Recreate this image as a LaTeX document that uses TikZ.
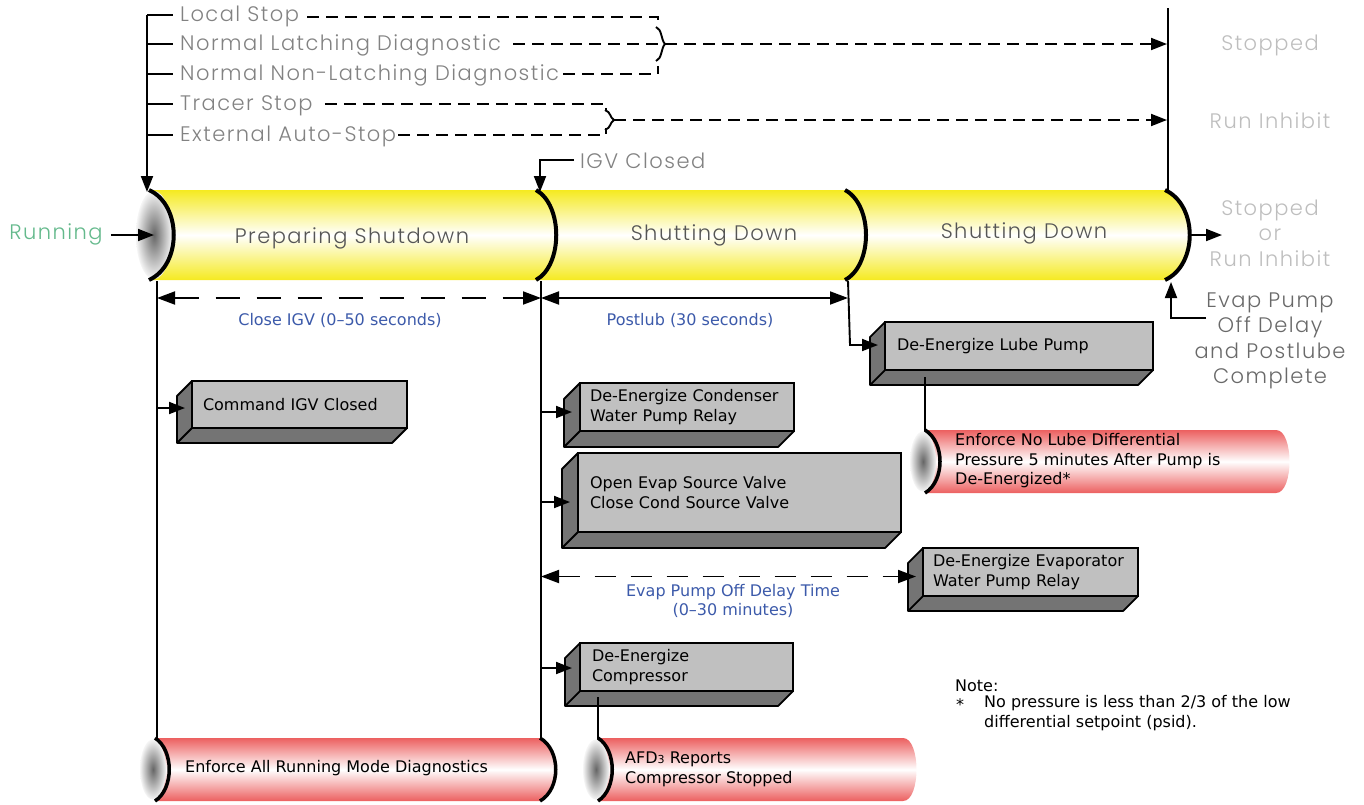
\documentclass[tikz,border=0pt]{standalone}
\usepackage{fontspec}
\setmainfont{DejaVu Sans}
\IfFontExistsTF{Poppins Light}{\newfontfamily\pop{Poppins Light}[LetterSpace=7]}{\newfontfamily\pop{Poppins}[LetterSpace=7]}
\usetikzlibrary{arrows.meta,calc}
\definecolor{tubeY}{RGB}{245,234,32}
\definecolor{tubeR}{RGB}{236,96,96}
\definecolor{boxF}{RGB}{192,192,192}
\definecolor{boxS}{RGB}{116,116,116}
\definecolor{lblue}{RGB}{60,90,170}
\definecolor{lgreen}{RGB}{100,185,140}
\definecolor{lgray}{RGB}{190,190,190}
\definecolor{mgray}{RGB}{130,130,130}
\definecolor{ngray}{RGB}{105,105,105}
\definecolor{dgray}{RGB}{85,85,85}
\newcommand\boxsides[2]{%
  \filldraw[fill=boxS, draw=black, line width=1.8pt, line join=round]
    (#1.north west) -- ++(-#2,#2) -- ($(#1.south west)+(-#2,#2)$)
    -- ($(#1.south east)+(-#2,#2)$) -- (#1.south east) -- (#1.south west) -- cycle;
  \draw[line width=1.8pt] (#1.south west) -- ++(-#2,#2);
}
\tikzset{
  conn/.style={line width=1.9pt},
  tip/.style={-{Triangle[length=16pt,width=12pt]}},
  dtip/.style={{Triangle[length=18pt,width=13pt]}-{Triangle[length=18pt,width=13pt]}},
  topdash/.style={dash pattern=on 12pt off 7pt},
  longdash/.style={dash pattern=on 24pt off 17pt},
  toplbl/.style={font=\pop\fontsize{21}{24}\selectfont, text=mgray, anchor=west, inner sep=0pt},
  statelbl/.style={font=\pop\fontsize{21}{25.5}\selectfont, text=lgray, align=center, inner sep=0pt},
  tubelbl/.style={font=\pop\fontsize{21}{24}\selectfont, text=dgray, inner sep=0pt},
  durlbl/.style={font=\fontsize{16}{19}\selectfont, text=lblue, align=center, inner sep=0pt},
  boxnode/.style={draw=black, line width=1.8pt, fill=boxF, anchor=north west, align=left,
     inner xsep=11pt, inner ysep=0pt, outer sep=0pt, font=\fontsize{16}{19.5}\selectfont},
  rtext/.style={anchor=west, align=left, inner sep=0pt, font=\fontsize{16}{19.5}\selectfont},
  sepline/.style={line width=4pt},
  capshade/.style={inner color=black!60, outer color=black!4}
}
\begin{document}
\begin{tikzpicture}[x=1pt,y=-1pt]
\useasboundingbox (0,0) rectangle (1364,804);

% ---------- top inputs ----------
\node[toplbl] (l1) at (180,16.5) {Local Stop};
\node[toplbl] (l2) at (180,45.5) {Normal Latching Diagnostic};
\node[toplbl] (l3) at (180,75.5) {Normal Non-Latching Diagnostic};
\node[toplbl] (l4) at (180,105.5) {Tracer Stop};
\node[toplbl] (l5) at (180,136.5) {External Auto-Stop};

\coordinate (vtop) at (147,15);
\coordinate (tubein) at (147,192);
\draw[conn,tip] (vtop) -- (tubein);
\coordinate (t1) at (147,15);
\coordinate (t2) at (147,44);
\coordinate (t3) at (147,74);
\coordinate (t4) at (147,104);
\coordinate (t5) at (147,135);
\draw[conn] (t1) -- ([xshift=-7pt]t1 -| l1.west);
\draw[conn] (t2) -- ([xshift=-7pt]t2 -| l2.west);
\draw[conn] (t3) -- ([xshift=-7pt]t3 -| l3.west);
\draw[conn] (t4) -- ([xshift=-7pt]t4 -| l4.west);
\draw[conn] (t5) -- ([xshift=-7pt]t5 -| l5.west);

% group 1 bracket
\coordinate (g1a) at (658,17);
\coordinate (g1b) at (658,74);
\coordinate (g1p) at (665,44);
\draw[conn,topdash] ([xshift=8pt]l1.east |- g1a) -- (g1a) -- (658,25);
\draw[conn,topdash] ([xshift=4pt]l3.east |- g1b) -- (g1b) -- (658,66);
\draw[conn] (656,27) .. controls (662,29) and (661,40) .. (g1p) .. controls (661,48) and (662,59) .. (656,61);

% group 2 bracket
\coordinate (g2a) at (606,104);
\coordinate (g2b) at (606,135);
\coordinate (g2p) at (614,120);
\draw[conn,topdash] ([xshift=12pt]l4.east |- g2a) -- (g2a) -- (606,110);
\draw[conn,topdash] ([xshift=2pt]l5.east |- g2b) -- (g2b) -- (606,128);
\draw[conn] (605,110) .. controls (611,112) and (610,118) .. (g2p) .. controls (610,122) and (611,128) .. (605,130);

% state bar on the right
\coordinate (vbartop) at (1168,8);
\coordinate (vbarbot) at (1168,190);
\draw[conn] (vbartop) -- (vbarbot);
\coordinate (stopin) at (1167,44);
\coordinate (inhin) at (1167,120);
\draw[conn,topdash,tip] ([xshift=12pt]l2.east |- stopin) -- (stopin);
\draw[conn,topdash,tip] (g2p) -- (inhin);
\node[statelbl] (stopped) at (1270,45) {Stopped};
\node[statelbl] (inhibit) at (1270,121) {Run Inhibit};

% ---------- main tube ----------
\shade[top color=tubeY, bottom color=tubeY, middle color=white]
  (150,190) -- (1165,190) .. controls (1198,205) and (1198,265) .. (1165,280) -- (150,280) -- cycle;
\shade[capshade] (154,235) ellipse [x radius=18, y radius=44];
\draw[sepline] (149,190) .. controls (182,205) and (182,265) .. (149,280);
\draw[sepline] (536,190) .. controls (563,205) and (563,265) .. (536,280);
\draw[sepline] (845,190) .. controls (873,205) and (873,265) .. (845,280);
\draw[sepline] (1165,190) .. controls (1198,205) and (1198,265) .. (1165,280);

\node[tubelbl] (ps) at (352,238) {Preparing Shutdown};
\node[tubelbl] (sd1) at (714,235) {Shutting Down};
\node[tubelbl] (sd2) at (1024,233) {Shutting Down};

% running
\node[font=\pop\fontsize{21}{24}\selectfont, text=lgreen, inner sep=0pt] (run) at (56,234) {Running};
\coordinate (capc) at (154,235);
\draw[conn,tip] ([xshift=8pt]run.east |- capc) -- (capc);

% IGV closed
\node[toplbl, text=mgray] (igv) at (580,161) {IGV Closed};
\coordinate (s1top) at (540,192);
\coordinate (igvl) at (574,160);
\draw[conn,tip] (igvl) -| (s1top);

% output
\node[statelbl] (final) at (1270,233) {Stopped\\or\\Run Inhibit};
\coordinate (outa) at (1190,235);
\coordinate (outb) at (1222,235);
\draw[conn,tip] (outa) -- (outb);

\node[statelbl, text=ngray] (evn) at (1270,341) {Evap Pump\\Off Delay\\and Postlube\\Complete};
\coordinate (evna) at (1206,318);
\coordinate (evnb) at (1171,282);
\draw[conn,tip] (evna) -| (evnb);

% ---------- durations ----------
\coordinate (v0t) at (157,281);
\coordinate (v1t) at (541,281);
\coordinate (v2t) at (848,281);
\coordinate (d0) at (157,298);
\coordinate (d1) at (541,298);
\coordinate (d2) at (848,298);
\draw[conn,longdash,dtip] (d0) -- (d1);
\draw[conn,dtip] (d1) -- (d2);
\node[durlbl] (cigv) at (340,320) {Close IGV (0–50 seconds)};
\node[durlbl] (plb) at (690,320) {Postlub (30 seconds)};

\coordinate (v0b) at (157,739);
\coordinate (v1b) at (541,739);
\draw[conn,line width=1.6pt] (v0t) -- (v0b);
\draw[conn,line width=1.6pt] (v1t) -- (v1b);

% ---------- boxes ----------
\node[boxnode, minimum width=215pt, minimum height=47pt, text width=193pt] (bx1) at (192,381) {Command IGV Closed};
\boxsides{bx1}{15}
\node[boxnode, minimum width=214pt, minimum height=48pt, text width=194pt, inner xsep=10pt] (bx2) at (580,383) {De-Energize Condenser\\Water Pump Relay};
\boxsides{bx2}{16}
\node[boxnode, minimum width=323pt, minimum height=79pt, text width=299pt, inner xsep=12pt] (bx3) at (578,453) {Open Evap Source Valve\\Close Cond Source Valve};
\boxsides{bx3}{16}
\node[boxnode, minimum width=268pt, minimum height=48pt, text width=244pt, inner xsep=12pt] (bx4) at (885,322) {De-Energize Lube Pump};
\boxsides{bx4}{15}
\node[boxnode, minimum width=215pt, minimum height=48pt, text width=195pt, inner xsep=10pt] (bx5) at (923,548) {De-Energize Evaporator\\Water Pump Relay};
\boxsides{bx5}{15}
\node[boxnode, minimum width=213pt, minimum height=48pt, text width=189pt, inner xsep=12pt] (bx6) at (580,643) {De-Energize\\Compressor};
\boxsides{bx6}{15}

\coordinate (a1) at ([xshift=-7pt,yshift=-3.5pt]bx1.west);
\coordinate (a2) at ([xshift=-8pt,yshift=-5pt]bx2.west);
\coordinate (a3) at ([xshift=-8pt,yshift=-9.5pt]bx3.west);
\coordinate (a4) at ([xshift=-7pt,yshift=1pt]bx4.west);
\coordinate (a5) at ([xshift=-7pt,yshift=-4.5pt]bx5.west);
\coordinate (a6) at ([xshift=-8pt,yshift=-1pt]bx6.west);
\draw[conn,tip] (v0t |- a1) -- (a1);
\draw[conn,tip] (v1t |- a2) -- (a2);
\draw[conn,tip] (v1t |- a3) -- (a3);
\draw[conn,tip] (v1t |- a6) -- (a6);
\draw[conn,tip] (v2t) -- (850,345) -- (a4);
\draw[conn,dtip, dash pattern=on 21pt off 15pt] (v1t |- a5) -- (a5);
\node[durlbl] (evd) at (733,601) {Evap Pump Off Delay Time\\(0–30 minutes)};

% ---------- red tubes ----------
% lube tube
\shade[top color=tubeR, bottom color=tubeR, middle color=white]
  (925,430) -- (1276,430) .. controls (1294,430) and (1294,493) .. (1276,493) -- (925,493) -- cycle;
\shade[capshade] (923,461.5) ellipse [x radius=13, y radius=30];
\draw[line width=3.5pt] (925,430) .. controls (945,442) and (945,481) .. (925,493);
\node[rtext] (r1t) at (955,461) {Enforce No Lube Differential\\Pressure 5 minutes After Pump is\\De-Energized*};

% running mode tube
\shade[top color=tubeR, bottom color=tubeR, middle color=white]
  (155,738) -- (540,738) .. controls (561,750) and (561,789) .. (540,801) -- (155,801) -- cycle;
\shade[capshade] (153,769.5) ellipse [x radius=13, y radius=30];
\draw[line width=3.5pt] (155,738) .. controls (174,750) and (174,789) .. (155,801);
\draw[line width=3.5pt] (540,738) .. controls (561,750) and (561,789) .. (540,801);
\node[rtext] (r2t) at (185,768) {Enforce All Running Mode Diagnostics};

% AFD tube
\shade[top color=tubeR, bottom color=tubeR, middle color=white]
  (598,738) -- (903,738) .. controls (921,738) and (921,801) .. (903,801) -- (598,801) -- cycle;
\shade[capshade] (596,769.5) ellipse [x radius=13, y radius=30];
\draw[line width=3.5pt] (598,738) .. controls (617,750) and (617,789) .. (598,801);
\node[rtext] (r3t) at (625,769.5) {AFD{\fontsize{11}{11}\selectfont 3} Reports\\Compressor Stopped};

\coordinate (c4a) at (925,377);
\coordinate (c4b) at (925,431);
\draw[conn,line width=1.6pt] (c4a) -- (c4b);
\coordinate (c6a) at (598,697);
\coordinate (c6b) at (598,739);
\draw[conn,line width=1.6pt] (c6a) -- (c6b);

% ---------- note ----------
\node[rtext] (note) at (955,686) {Note:};
\node[rtext] (star) at (956,705) {*};
\node[rtext] (notebody) at (984,713) {No pressure is less than 2/3 of the low\\differential setpoint (psid).};
\end{tikzpicture}
\end{document}
